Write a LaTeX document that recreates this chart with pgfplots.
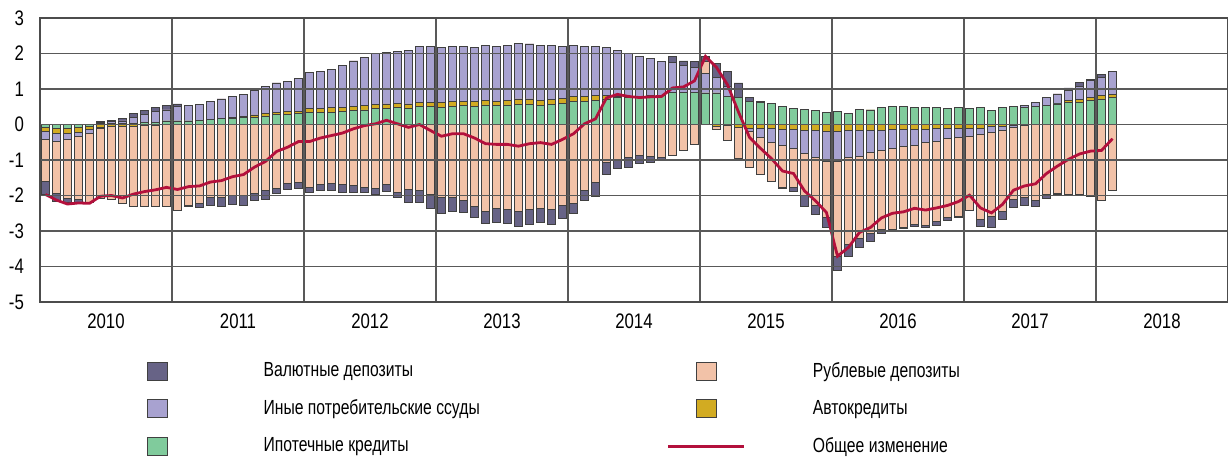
\documentclass[border=0pt]{standalone}
\usepackage{pgfplots}
\pgfplotsset{compat=1.18}
\usepackage{pgfplotstable}
\usepackage{fontspec}
\setmainfont{Liberation Sans}[FakeStretch=0.8]
\newfontfamily\legfont{Liberation Sans}[FakeStretch=0.77]
\definecolor{cD}{HTML}{676386}
\definecolor{cL}{HTML}{A8A2D0}
\definecolor{cG}{HTML}{80CB9C}
\definecolor{cP}{HTML}{F2C2A8}
\definecolor{cY}{HTML}{D2AB22}
\definecolor{cR}{HTML}{B3103C}
\pgfplotstableread{
x gp yp lp pp dp gn yn ln pn dn t
0 0 0 0 0 0 -0.07 -0.20 -0.41 -1.60 -1.97 -1.97
1 0 0 0 0 0 -0.10 -0.24 -0.47 -1.95 -2.16 -2.13
2 0 0 0 0 0 -0.10 -0.24 -0.43 -2.08 -2.20 -2.24
3 0 0 0 0 0 -0.09 -0.21 -0.34 -2.12 -2.18 -2.21
4 0 0 0 0 0 -0.05 -0.13 -0.24 -2.18 -2.20 -2.22
5 0.03 0.03 0.06 0.06 0.08 0 -0.08 -0.10 -2.08 -2.08 -2.02
6 0.03 0.03 0.09 0.09 0.12 0 -0.06 -0.06 -2.10 -2.10 -2.00
7 0.02 0.02 0.10 0.10 0.16 0 -0.05 -0.05 -2.22 -2.22 -2.07
8 0.04 0.04 0.20 0.20 0.32 0 -0.04 -0.04 -2.30 -2.30 -1.96
9 0.05 0.05 0.29 0.29 0.40 0 -0.03 -0.03 -2.31 -2.31 -1.89
10 0.07 0.07 0.36 0.36 0.47 0 -0.02 -0.02 -2.30 -2.30 -1.84
11 0.10 0.10 0.41 0.41 0.54 0 0 0 -2.31 -2.31 -1.77
12 0.10 0.10 0.50 0.50 0.58 0 0 0 -2.42 -2.42 -1.83
13 0.10 0.10 0.53 0.53 0.53 0 0 0 -2.28 -2.32 -1.75
14 0.11 0.11 0.56 0.56 0.56 0 0 0 -2.22 -2.33 -1.73
15 0.15 0.15 0.66 0.66 0.66 0 0 0 -2.05 -2.27 -1.62
16 0.16 0.17 0.72 0.72 0.72 0 0 0 -2.05 -2.30 -1.58
17 0.18 0.20 0.80 0.80 0.80 0 0 0 -2.00 -2.25 -1.47
18 0.19 0.22 0.85 0.85 0.85 0 0 0 -1.99 -2.27 -1.41
19 0.21 0.27 0.97 0.97 0.97 0 0 0 -1.95 -2.15 -1.20
20 0.24 0.30 1.07 1.07 1.07 0 0 0 -1.86 -2.10 -1.04
21 0.28 0.34 1.17 1.17 1.17 0 0 0 -1.79 -1.93 -0.76
22 0.28 0.36 1.22 1.22 1.22 0 0 0 -1.66 -1.84 -0.64
23 0.30 0.38 1.31 1.31 1.31 0 0 0 -1.63 -1.80 -0.48
24 0.34 0.45 1.46 1.46 1.46 0 0 0 -1.76 -1.92 -0.48
25 0.34 0.45 1.49 1.49 1.49 0 0 0 -1.69 -1.86 -0.38
26 0.35 0.47 1.56 1.56 1.56 0 0 0 -1.67 -1.87 -0.31
27 0.36 0.48 1.67 1.67 1.67 0 0 0 -1.68 -1.90 -0.24
28 0.39 0.52 1.79 1.79 1.79 0 0 0 -1.72 -1.91 -0.12
29 0.41 0.54 1.90 1.90 1.90 0 0 0 -1.76 -1.91 -0.03
30 0.44 0.57 2.00 2.00 2.00 0 0 0 -1.80 -1.97 0.02
31 0.45 0.58 2.02 2.02 2.02 0 0 0 -1.69 -1.88 0.12
32 0.47 0.60 2.07 2.07 2.07 0 0 0 -1.90 -2.04 0.02
33 0.45 0.58 2.09 2.09 2.09 0 0 0 -1.82 -2.18 -0.08
34 0.50 0.63 2.20 2.20 2.20 0 0 0 -1.87 -2.20 0.00
35 0.50 0.63 2.21 2.21 2.21 0 0 0 -1.97 -2.37 -0.17
36 0.49 0.62 2.16 2.16 2.16 0 0 0 -2.06 -2.50 -0.33
37 0.51 0.64 2.20 2.20 2.20 0 0 0 -2.04 -2.44 -0.26
38 0.54 0.66 2.20 2.20 2.20 0 0 0 -2.15 -2.48 -0.26
39 0.52 0.65 2.18 2.18 2.18 0 0 0 -2.30 -2.62 -0.38
40 0.55 0.68 2.22 2.22 2.22 0 0 0 -2.44 -2.79 -0.54
41 0.53 0.66 2.20 2.20 2.20 0 0 0 -2.36 -2.77 -0.56
42 0.55 0.69 2.22 2.22 2.22 0 0 0 -2.39 -2.79 -0.56
43 0.57 0.72 2.28 2.28 2.28 0 0 0 -2.45 -2.88 -0.61
44 0.57 0.72 2.27 2.27 2.27 0 0 0 -2.40 -2.80 -0.54
45 0.54 0.69 2.22 2.22 2.22 0 0 0 -2.36 -2.76 -0.51
46 0.56 0.71 2.22 2.22 2.22 0 0 0 -2.38 -2.80 -0.56
47 0.60 0.74 2.20 2.20 2.20 0 0 0 -2.27 -2.64 -0.42
48 0.64 0.79 2.22 2.22 2.22 0 0 0 -2.22 -2.50 -0.26
49 0.66 0.79 2.20 2.20 2.20 0 0 0 -1.85 -2.15 0.02
50 0.68 0.81 2.19 2.19 2.19 0 0 0 -1.62 -2.03 0.16
51 0.72 0.81 2.17 2.17 2.17 0 0 0 -1.08 -1.41 0.75
52 0.75 0.80 2.08 2.08 2.08 0 0 0 -0.98 -1.24 0.85
53 0.75 0.80 2.00 2.00 2.00 0 0 0 -0.92 -1.20 0.79
54 0.76 0.80 1.93 1.93 1.93 0 0 0 -0.88 -1.10 0.76
55 0.80 0.81 1.85 1.85 1.85 0 0 0 -0.90 -1.06 0.78
56 0.81 0.82 1.77 1.77 1.77 0 0 0 -0.93 -0.97 0.79
57 0.90 0.90 1.75 1.75 1.92 0 0 0 -0.87 -0.87 1.03
58 0.91 0.91 1.66 1.66 1.79 0 0 0 -0.74 -0.74 1.06
59 0.91 0.91 1.62 1.62 1.77 0 0 0 -0.55 -0.55 1.23
60 0.89 0.89 1.45 1.78 1.93 0 0 0 0 0 1.92
61 0.89 0.89 1.33 1.33 1.71 0 -0.05 -0.05 -0.14 -0.14 1.61
62 0.80 0.80 1.08 1.08 1.50 0 -0.03 -0.03 -0.44 -0.44 1.12
63 0.75 0.75 0.76 0.76 1.17 0 -0.09 -0.09 -0.95 -0.95 0.35
64 0.64 0.64 0.64 0.64 0.77 0 -0.10 -0.20 -1.21 -1.21 -0.36
65 0.63 0.63 0.63 0.63 0.64 0 -0.12 -0.36 -1.41 -1.41 -0.67
66 0.60 0.60 0.60 0.60 0.60 0 -0.12 -0.50 -1.59 -1.59 -0.96
67 0.50 0.50 0.50 0.50 0.50 0 -0.14 -0.60 -1.78 -1.81 -1.31
68 0.46 0.46 0.46 0.46 0.46 0 -0.15 -0.68 -1.76 -1.89 -1.38
69 0.43 0.43 0.43 0.43 0.43 0 -0.16 -0.80 -2.00 -2.31 -1.87
70 0.39 0.39 0.39 0.39 0.39 0 -0.17 -0.92 -2.28 -2.53 -2.15
71 0.35 0.35 0.35 0.35 0.35 0 -0.19 -1.03 -2.61 -2.89 -2.48
72 0.36 0.36 0.36 0.36 0.36 0 -0.20 -1.04 -3.72 -4.12 -3.71
73 0.32 0.32 0.32 0.32 0.32 0 -0.17 -0.94 -3.38 -3.71 -3.46
74 0.42 0.42 0.42 0.42 0.42 0 -0.17 -0.89 -3.20 -3.45 -3.04
75 0.41 0.41 0.41 0.41 0.41 0 -0.17 -0.78 -3.07 -3.30 -2.90
76 0.48 0.48 0.48 0.48 0.48 0 -0.16 -0.74 -2.96 -3.08 -2.63
77 0.50 0.50 0.50 0.50 0.50 0 -0.15 -0.66 -2.95 -2.97 -2.50
78 0.50 0.50 0.50 0.50 0.50 0 -0.14 -0.62 -2.91 -2.94 -2.46
79 0.49 0.49 0.49 0.49 0.49 0 -0.14 -0.59 -2.81 -2.88 -2.36
80 0.47 0.47 0.47 0.47 0.47 0 -0.13 -0.51 -2.83 -2.90 -2.41
81 0.47 0.47 0.47 0.47 0.47 0 -0.12 -0.48 -2.74 -2.85 -2.35
82 0.46 0.46 0.46 0.46 0.46 0 -0.11 -0.40 -2.63 -2.70 -2.28
83 0.49 0.49 0.49 0.49 0.49 0 -0.10 -0.36 -2.58 -2.61 -2.17
84 0.46 0.46 0.46 0.46 0.46 0 -0.10 -0.34 -2.41 -2.41 -1.99
85 0.47 0.47 0.47 0.47 0.47 0 -0.10 -0.28 -2.66 -2.88 -2.35
86 0.39 0.39 0.39 0.39 0.39 0 -0.06 -0.23 -2.60 -2.91 -2.49
87 0.49 0.49 0.49 0.49 0.49 0 -0.05 -0.17 -2.44 -2.66 -2.25
88 0.50 0.50 0.50 0.50 0.50 0 -0.03 -0.07 -2.11 -2.34 -1.85
89 0.49 0.49 0.53 0.53 0.53 0 -0.02 -0.02 -2.04 -2.27 -1.73
90 0.50 0.50 0.63 0.63 0.63 0 0 0 -2.13 -2.32 -1.67
91 0.53 0.54 0.75 0.75 0.75 0 0 0 -1.97 -2.08 -1.38
92 0.58 0.60 0.86 0.86 0.86 0 0 0 -1.95 -1.98 -1.17
93 0.61 0.67 0.95 0.95 1.03 0 0 0 -1.97 -1.97 -0.98
94 0.63 0.70 1.08 1.08 1.18 0 0 0 -1.97 -1.97 -0.83
95 0.68 0.76 1.24 1.24 1.28 0 0 0 -2.02 -2.02 -0.75
96 0.72 0.81 1.33 1.33 1.42 0 0 0 -2.14 -2.14 -0.73
97 0.75 0.84 1.50 1.50 1.50 0 0 0 -1.85 -1.85 -0.40
}\data
\pgfplotsset{
  seg/.style={ybar, bar width=4.3pt, bar shift=0pt, draw=black!75, line width=0.4pt, fill=#1,
    legend image code/.code={\draw[draw=black!75,line width=0.4pt,fill=#1] (14pt,-4.5pt) rectangle (24pt,4.5pt); \path (0pt,0pt) (38pt,0pt);}},
}
\begin{document}
\begin{tikzpicture}
\path[use as bounding box] (-20pt,-77.5pt) rectangle (594pt,151pt);
\begin{axis}[
  at={(0,0)}, anchor=south west,
  scale only axis, width=594pt, height=142pt,
  xmin=-0.5, xmax=107.5, ymin=-5, ymax=3,
  ytick={-5,-4,-3,-2,-1,0,1,2,3},
  xtick={5.5,17.5,29.5,41.5,53.5,65.5,77.5,89.5,101.5},
  xticklabels={2010,2011,2012,2013,2014,2015,2016,2017,2018},
  minor xtick={11.5,23.5,35.5,47.5,59.5,71.5,83.5,95.5},
  xminorgrids, ymajorgrids,
  major tick length=0pt, minor tick length=0pt,
  major grid style={black!65, line width=0.6pt},
  minor grid style={black!65, line width=0.6pt},
  axis line style={black!70, line width=0.6pt},
  extra y ticks={0}, extra y tick labels={},
  extra y tick style={grid style={black, line width=0.7pt}},
  axis on top,
  /pgf/number format/assume math mode=true,
  tick label style={font=\fontsize{10.5}{12}\selectfont},
  yticklabel style={xshift=-4.5pt},
  xticklabel style={yshift=-2.5pt},
  legend columns=2,
  legend cell align=left,
  legend style={draw=none, fill=none, at={(0.0665,-0.197)}, anchor=north west,
    font=\legfont\fontsize{10.2}{12}\selectfont, row sep=5.75pt, inner sep=0pt,
    /tikz/every odd column/.append style={column sep=31.7pt},
    /tikz/every even column/.append style={column sep=4.6pt}},
]
\addplot[seg=cD] table[x=x,y=dp]{\data}; \addlegendentry{\makebox[195pt][l]{Валютные депозиты}}
\addplot[seg=cP] table[x=x,y=pp]{\data}; \addlegendentry{Рублевые депозиты}
\addplot[seg=cL] table[x=x,y=lp]{\data}; \addlegendentry{\makebox[195pt][l]{Иные потребительские ссуды}}
\addplot[seg=cY] table[x=x,y=yp]{\data}; \addlegendentry{Автокредиты}
\addplot[seg=cG] table[x=x,y=gp]{\data}; \addlegendentry{\makebox[195pt][l]{Ипотечные кредиты}}
\addplot[seg=cD, forget plot] table[x=x,y=dn]{\data};
\addplot[seg=cP, forget plot] table[x=x,y=pn]{\data};
\addplot[seg=cL, forget plot] table[x=x,y=ln]{\data};
\addplot[seg=cY, forget plot] table[x=x,y=yn]{\data};
\addplot[seg=cG, forget plot] table[x=x,y=gn]{\data};
\addplot[cR, line width=1.4pt, sharp plot, mark=none,
  legend image code/.code={\draw[cR,line width=1.4pt] (0pt,0pt) -- (38pt,0pt);}]
  table[x=x,y=t]{\data}; \addlegendentry{Общее изменение}
\end{axis}
\end{tikzpicture}
\end{document}
